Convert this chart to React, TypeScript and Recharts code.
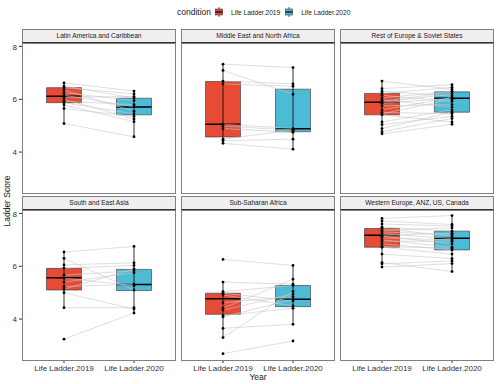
import React from 'react';
import { ComposedChart, XAxis, YAxis, Line, Scatter, ReferenceArea, ReferenceLine } from 'recharts';

const regions = [
  'Latin America and Caribbean',
  'Middle East and North Africa',
  'Rest of Europe & Soviet States',
  'South and East Asia',
  'Sub-Saharan Africa',
  'Western Europe, ANZ, US, Canada',
];
const conditions = ['Life Ladder.2019', 'Life Ladder.2020'];
const yTicks = [4, 6, 8];
const colors = ['#E64B35', '#4DBBD5'];

// one entry per country, same index in both years
const latam2019 = [6.62, 6.5, 6.44, 6.35, 6.25, 6.15, 6.08, 6.0, 5.92, 5.87, 5.78, 5.65, 5.08];
const latam2020 = [6.31, 6.05, 6.2, 5.55, 5.95, 5.72, 6.1, 5.25, 5.8, 5.45, 5.15, 5.35, 4.58];
const mena2019 = [7.33, 7.09, 6.69, 6.58, 5.06, 4.99, 4.89, 4.49, 4.43, 4.33];
const mena2020 = [7.2, 6.19, 6.58, 6.49, 4.89, 4.83, 4.75, 4.83, 4.49, 4.11];
const europe2019 = [6.69, 6.4, 6.3, 6.22, 6.15, 6.05, 5.98, 5.92, 5.89, 5.85, 5.75, 5.6, 5.5, 5.45, 5.41, 5.14, 5.04, 4.89, 4.77, 4.69];
const europe2020 = [6.38, 6.55, 6.12, 6.45, 5.92, 6.3, 5.7, 6.28, 6.2, 6.04, 5.8, 6.06, 5.45, 6.0, 5.14, 5.6, 5.35, 5.51, 5.27, 5.05];
const asia2019 = [6.54, 6.3, 6.05, 5.93, 5.66, 5.55, 5.4, 5.23, 5.13, 5.0, 4.43, 3.24];
const asia2020 = [6.75, 5.1, 6.13, 6.03, 5.83, 5.27, 5.75, 5.32, 5.9, 4.38, 4.43, 4.23];
const africa2019 = [6.26, 5.4, 5.04, 4.98, 4.91, 4.62, 4.41, 4.34, 4.13, 4.08, 3.65, 3.3, 2.69];
const africa2020 = [6.03, 5.32, 5.27, 4.69, 4.5, 4.85, 5.51, 4.95, 4.41, 4.75, 3.8, 5.05, 3.17];
const west2019 = [7.81, 7.71, 7.6, 7.48, 7.43, 7.35, 7.3, 7.23, 7.17, 7.14, 7.07, 7.0, 6.95, 6.85, 6.75, 6.72, 6.46, 6.14, 6.09, 5.97];
const west2020 = [7.92, 7.58, 7.52, 7.33, 7.14, 7.45, 7.2, 7.05, 7.25, 6.85, 7.0, 6.72, 6.95, 6.62, 6.68, 6.46, 6.29, 5.8, 6.2, 6.1];

// [lower whisker, q1, median, q3, upper whisker]
const boxes2019 = [
  [5.08, 5.87, 6.11, 6.44, 6.62],
  [4.33, 4.57, 5.05, 6.67, 7.33],
  [4.69, 5.41, 5.89, 6.22, 6.69],
  [4.43, 5.1, 5.56, 5.92, 6.54],
  [3.3, 4.18, 4.77, 4.98, 5.4],
  [5.97, 6.72, 7.17, 7.43, 7.81],
];
const boxes2020 = [
  [4.58, 5.41, 5.71, 6.04, 6.31],
  [4.11, 4.77, 4.88, 6.38, 7.2],
  [5.05, 5.51, 6.04, 6.28, 6.55],
  [4.23, 5.08, 5.31, 5.88, 6.75],
  [3.8, 4.47, 4.75, 5.27, 6.03],
  [5.8, 6.62, 7.06, 7.33, 7.92],
];

const scores2019 = [latam2019, mena2019, europe2019, asia2019, africa2019, west2019];
const scores2020 = [latam2020, mena2020, europe2020, asia2020, africa2020, west2020];

const FONT = '"Liberation Sans", Arial, Helvetica, sans-serif';
const colLeft = [22, 181, 340];
const rowTop = [43, 210];
const PW = 154;
const PH = 150;
const STRIP = 13;
const AXIS_W = 22;
const AXIS_H = 16;

const Panel = ({ idx }: { idx: number }) => {
  const row = Math.floor(idx / 3);
  const col = idx % 3;
  const showY = col === 0;
  const showX = row === 1;
  const left = colLeft[col] - (showY ? AXIS_W : 0);
  const width = PW + (showY ? AXIS_W : 0);
  const height = PH + (showX ? AXIS_H : 0);
  const a = scores2019[idx];
  const b = scores2020[idx];
  const points = [...a.map((y) => ({ x: 1, y })), ...b.map((y) => ({ x: 2, y }))];
  const boxes = [boxes2019[idx], boxes2020[idx]];

  return (
    <>
      <div
        style={{
          position: 'absolute', left: colLeft[col], top: rowTop[row] - STRIP - 1, width: PW - 2, height: STRIP - 1,
          background: '#EFEFEF', border: '1px solid #808080', borderBottom: '1.5px solid #333',
          fontSize: 6.6, color: '#1a1a1a', textAlign: 'center', lineHeight: `${STRIP - 1}px`, fontFamily: FONT,
        }}
      >
        {regions[idx]}
      </div>
      <div style={{ position: 'absolute', left, top: rowTop[row], width, height }}>
        <ComposedChart width={width} height={height} margin={{ top: 0, right: 0, bottom: 0, left: 0 }}>
          <XAxis
            dataKey="x" type="number" domain={[0.4, 2.6]} ticks={[1, 2]} hide={!showX} height={AXIS_H}
            tickFormatter={(v: number) => conditions[v - 1]} axisLine={false} tickSize={3}
            tickLine={{ stroke: '#333' }} tick={{ fontSize: 8, fill: '#333', fontFamily: FONT }} interval={0}
          />
          <YAxis
            dataKey="y" type="number" domain={[2.45, 8.13]} ticks={yTicks} hide={!showY} width={AXIS_W}
            axisLine={false} tickSize={3} tickLine={{ stroke: '#333' }}
            tick={{ fontSize: 8, fill: '#333', fontFamily: FONT }}
          />
          {boxes.map((s, i) => (
            <ReferenceLine key={`w${i}`} segment={[{ x: i + 1, y: s[0] }, { x: i + 1, y: s[4] }]} stroke="#000" strokeWidth={0.8} />
          ))}
          {boxes.map((s, i) => (
            <ReferenceArea key={`b${i}`} x1={i + 0.75} x2={i + 1.25} y1={s[1]} y2={s[3]} fill={colors[i]} fillOpacity={1} stroke="#333" strokeWidth={0.6} />
          ))}
          {boxes.map((s, i) => (
            <ReferenceLine key={`m${i}`} segment={[{ x: i + 0.75, y: s[2] }, { x: i + 1.25, y: s[2] }]} stroke="#000" strokeWidth={1.5} />
          ))}
          {a.map((v, k) => (
            <Line
              key={`p${k}`} data={[{ x: 1, y: v }, { x: 2, y: b[k] }]} dataKey="y" type="linear"
              stroke="#c8c8c8" strokeWidth={0.6} dot={false} activeDot={false} isAnimationActive={false}
            />
          ))}
          <Scatter data={points} dataKey="y" fill="#000" isAnimationActive={false}
            shape={(p: any) => <circle cx={p.cx} cy={p.cy} r={1.4} fill="#000" />} />
        </ComposedChart>
      </div>
      <div
        style={{
          position: 'absolute', left: colLeft[col], top: rowTop[row], width: PW - 2, height: PH - 1,
          border: '1px solid #808080', pointerEvents: 'none',
        }}
      />
    </>
  );
};

const LegendKey = ({ color }: { color: string }) => (
  <svg width={8} height={10} style={{ verticalAlign: 'middle' }}>
    <line x1={4} y1={0} x2={4} y2={10} stroke="#333" strokeWidth={0.8} />
    <rect x={0.5} y={2} width={7} height={6} fill={color} stroke="#333" strokeWidth={0.6} />
    <line x1={0.5} y1={5} x2={7.5} y2={5} stroke="#000" strokeWidth={1.2} />
  </svg>
);

export default function App() {
  return (
    <div style={{ position: 'absolute', left: 0, top: 0, width: 500, height: 384, background: '#fff', fontFamily: FONT, overflow: 'hidden' }}>
      <div style={{ position: 'absolute', left: 177, top: 6, height: 12, display: 'flex', alignItems: 'center', whiteSpace: 'nowrap' }}>
        <span style={{ fontSize: 8.5, color: '#1a1a1a', marginRight: 4 }}>condition</span>
        <LegendKey color={colors[0]} />
        <span style={{ fontSize: 6.6, color: '#1a1a1a', marginLeft: 8, marginRight: 5 }}>{conditions[0]}</span>
        <LegendKey color={colors[1]} />
        <span style={{ fontSize: 6.6, color: '#1a1a1a', marginLeft: 8 }}>{conditions[1]}</span>
      </div>
      {regions.map((_, i) => (
        <Panel key={i} idx={i} />
      ))}
      <div style={{ position: 'absolute', left: 7, top: 201, transform: 'translate(-50%, -50%) rotate(-90deg)', fontSize: 8.5, color: '#1a1a1a', whiteSpace: 'nowrap' }}>
        Ladder Score
      </div>
      <div style={{ position: 'absolute', left: 258, top: 377, transform: 'translate(-50%, -50%)', fontSize: 8.5, color: '#1a1a1a' }}>
        Year
      </div>
    </div>
  );
}
